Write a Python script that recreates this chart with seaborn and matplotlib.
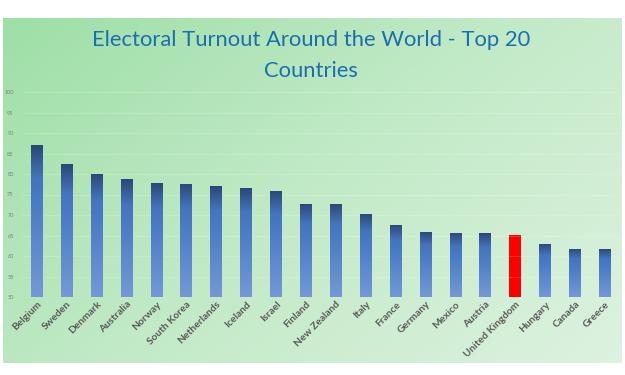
import numpy as np
import matplotlib
matplotlib.use('Agg')
import matplotlib.pyplot as plt
import seaborn as sns
from matplotlib.colors import LinearSegmentedColormap

# Data
countries = ['Belgium', 'Sweden', 'Denmark', 'Australia', 'Norway', 'South Korea',
             'Netherlands', 'Iceland', 'Israel', 'Finland', 'New Zealand', 'Italy',
             'France', 'Germany', 'Mexico', 'Austria', 'United Kingdom', 'Hungary',
             'Canada', 'Greece']
turnout = [87.0, 82.4, 80.1, 78.7, 77.8, 77.6, 77.0, 76.5, 75.9, 72.8, 72.7, 70.3,
           67.6, 65.9, 65.7, 65.6, 65.1, 63.0, 61.8, 61.8]
highlight = 'United Kingdom'
y_ticks = list(range(50, 101, 5))

sns.set_theme(style='white')
plt.rcParams['font.family'] = ['Lato', 'DejaVu Sans']

fig = plt.figure(figsize=(6.25, 3.75), dpi=100)
fig.patch.set_facecolor('white')

# green gradient background panel
bg = fig.add_axes([3 / 625, 1 - 363 / 375, 619 / 625, 345 / 375], zorder=0)
bg_cmap = LinearSegmentedColormap.from_list('bg', ['#9edfa7', '#c2eac7', '#ddf2e0'])
gx, gy = np.meshgrid(np.linspace(0, 1, 200), np.linspace(0, 1, 200))
bg.imshow(0.6 * gx + 0.4 * gy, cmap=bg_cmap, aspect='auto', extent=[0, 1, 0, 1], origin='upper')
bg.set_axis_off()

ax = fig.add_axes([22 / 625, 1 - 297 / 375, 598 / 625, 205 / 375], zorder=1)
ax.patch.set_alpha(0)

colors = ['#ff0000' if c == highlight else '#4a7bc6' for c in countries]
sns.barplot(x=countries, y=turnout, hue=countries, palette=colors, legend=False,
            width=0.4, ax=ax, saturation=1, linewidth=0, edgecolor='none')

ax.set_ylim(50, 100)
ax.set_yticks(y_ticks)
ax.set_xlim(-0.5, len(countries) - 0.5)

bar_cmap = LinearSegmentedColormap.from_list(
    'bar', [(0, '#7499d6'), (0.62, '#4a7bc6'), (0.78, '#4674be'), (1, '#2a4878')])
grad = np.linspace(0, 1, 256).reshape(-1, 1)
for patch, c in zip(ax.patches, countries):
    if c == highlight:
        continue
    x0 = patch.get_x()
    w = patch.get_width()
    h = patch.get_height()
    patch.set_facecolor('none')
    im = ax.imshow(grad, cmap=bar_cmap, aspect='auto', origin='lower',
                   extent=[x0, x0 + w, 50, h], zorder=3)
    im.set_clip_path(patch)

for y in y_ticks[1:]:
    ax.axhline(y, color='white', alpha=0.2, lw=0.6, zorder=1)

for s in ax.spines.values():
    s.set_visible(False)

ax.tick_params(axis='y', labelsize=4, colors='#7f7f7f', length=0, pad=6)
ax.tick_params(axis='x', length=0, pad=2)
ax.set_xticks(range(len(countries)))
ax.set_xticklabels(countries, rotation=45, ha='right', rotation_mode='anchor',
                   fontsize=7.3, color='#595959', fontweight='bold')
ax.set_xlabel('')
ax.set_ylabel('')

fig.text(0.497, 1 - 40 / 375, 'Electoral Turnout Around the World - Top 20',
         ha='center', va='center', fontsize=15.8, color='#1a6fb0')
fig.text(0.497, 1 - 71 / 375, 'Countries',
         ha='center', va='center', fontsize=15.8, color='#1a6fb0')

fig.savefig('out.png', dpi=100)
